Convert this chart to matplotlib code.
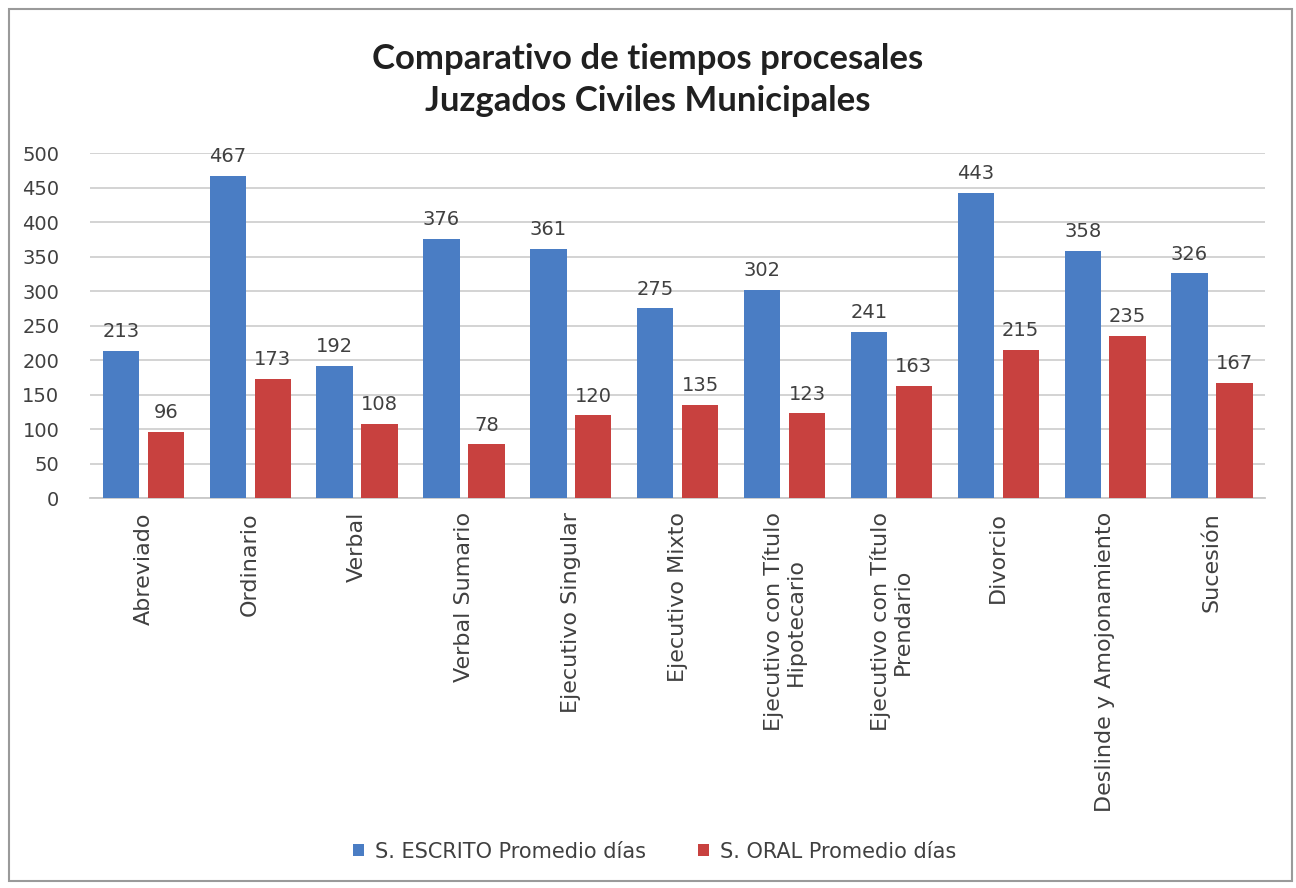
import matplotlib
matplotlib.use("Agg")
import matplotlib.pyplot as plt
import numpy as np
from matplotlib.patches import Rectangle

categories = ["Abreviado", "Ordinario", "Verbal", "Verbal Sumario", "Ejecutivo Singular",
              "Ejecutivo Mixto", "Ejecutivo con Título\nHipotecario",
              "Ejecutivo con Título\nPrendario", "Divorcio", "Deslinde y Amojonamiento",
              "Sucesión"]
escrito = [213, 467, 192, 376, 361, 275, 302, 241, 443, 358, 326]
oral = [96, 173, 108, 78, 120, 135, 123, 163, 215, 235, 167]
series_names = ["S. ESCRITO Promedio días", "S. ORAL Promedio días"]
yticks = list(range(0, 501, 50))

blue = "#4A7DC4"
red = "#C8413F"
txt = "#404040"

fig = plt.figure(figsize=(12.96, 8.88), dpi=100)
ax = fig.add_axes([0.0694, 0.439, 0.907, 0.3885])

x = np.arange(len(categories))
w = 0.34
off = 0.21
b1 = ax.bar(x - off, escrito, w, color=blue, label=series_names[0], zorder=3)
b2 = ax.bar(x + off, oral, w, color=red, label=series_names[1], zorder=3)

for bars, vals in ((b1, escrito), (b2, oral)):
    for r, v in zip(bars, vals):
        ax.annotate(str(v), (r.get_x() + r.get_width() / 2, v), xytext=(0, 7),
                    textcoords="offset points", ha="center", va="bottom",
                    fontsize=14, color=txt, zorder=4)

ax.set_xlim(-0.5, len(categories) - 0.5)
ax.set_ylim(0, 500)
ax.set_yticks(yticks)
ax.set_yticklabels([str(t) for t in yticks], fontsize=14, color=txt)
ax.yaxis.grid(True, color="#D0D0D0", linewidth=1.3, zorder=0)
ax.set_xticks(x)
ax.set_xticklabels(categories, rotation=90, fontsize=16, color=txt, ha="center", va="top",
                   multialignment="center", linespacing=1.1)
ax.tick_params(axis="y", length=0, pad=22)
ax.tick_params(axis="x", length=0, pad=10)
for s in ["top", "right", "left"]:
    ax.spines[s].set_visible(False)
ax.spines["bottom"].set_color("#C8C8C8")
ax.spines["bottom"].set_linewidth(1.3)

fig.text(0.5, 0.934, "Comparativo de tiempos procesales", ha="center", va="center",
         fontsize=25, fontweight="bold", color="#202020", family="Lato")
fig.text(0.5, 0.886, "Juzgados Civiles Municipales", ha="center", va="center",
         fontsize=25, fontweight="bold", color="#202020", family="Lato")

leg = fig.legend(handles=[b1, b2], labels=series_names, loc="center",
                 bbox_to_anchor=(0.505, 0.041), ncol=2, frameon=False, fontsize=15,
                 handlelength=0.55, handleheight=0.55, columnspacing=2.5, handletextpad=0.5)
for t in leg.get_texts():
    t.set_color(txt)

# outer chart frame
fig.patches.append(Rectangle((0.007, 0.008), 0.99, 0.982, transform=fig.transFigure,
                             fill=False, edgecolor="#9A9A9A", linewidth=1.5))

fig.savefig("out.png", dpi=100, facecolor="white")
